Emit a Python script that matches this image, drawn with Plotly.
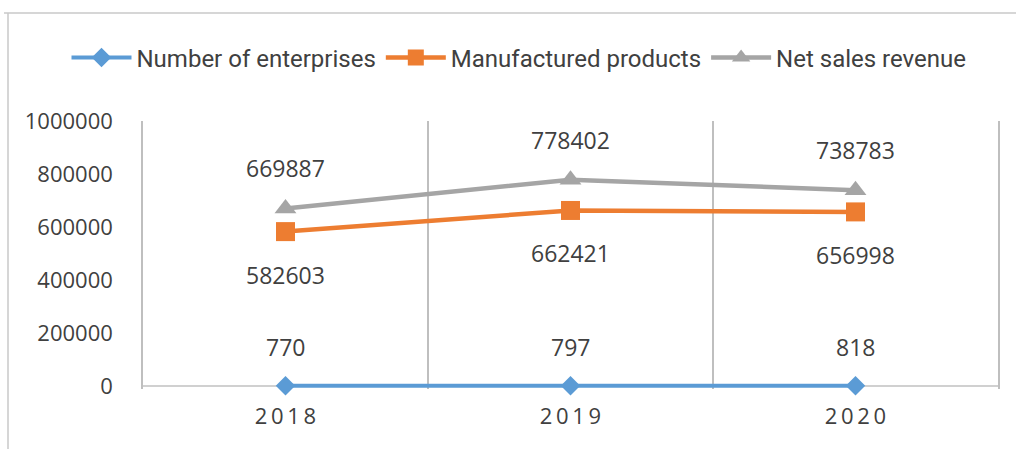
import plotly.graph_objects as go

# Data
years = ["2018", "2019", "2020"]
year_labels = ["2\u20090\u20091\u20098", "2\u20090\u20091\u20099", "2\u20090\u20092\u20090"]
enterprises = [770, 797, 818]
manufactured = [582603, 662421, 656998]
net_sales = [669887, 778402, 738783]

y_ticks = [0, 200000, 400000, 600000, 800000, 1000000]

BLUE = "#5B9BD5"
ORANGE = "#ED7D31"
GRAY = "#A5A5A5"
TEXT = "#404040"
GRID = "#BFBFBF"

W, H = 1016, 449
PLOT_L, PLOT_R = 143, 998
T = 121
Y_MAX = 1000000
PX_PER_UNIT = 265 / Y_MAX      # 0..1e6 spans 265 px
BELOW = 3                      # px of room under the baseline so the bottom line is not clipped
B = 63 - BELOW
ph = H - T - B
y_min = -BELOW / PX_PER_UNIT

xs = list(range(len(years)))

fig = go.Figure()

series = [
    ("Number of enterprises", enterprises, BLUE, "diamond", 15, 4),
    ("Manufactured products", manufactured, ORANGE, "square", 19, 4.5),
    ("Net sales revenue", net_sales, GRAY, "triangle-up", 19, 4.5),
]
for name, vals, color, symbol, msize, lw in series:
    fig.add_trace(go.Scatter(
        x=xs, y=vals, name=name, mode="lines+markers",
        line=dict(color=color, width=lw),
        marker=dict(symbol=symbol, size=msize, color=color, line=dict(width=0)),
        cliponaxis=False,
    ))

# Value labels: net sales and enterprises above, manufactured below
label_font = dict(family="Open Sans", size=23, color=TEXT)
annotations = []
for vals, shift in [(net_sales, 40), (enterprises, 39), (manufactured, -43)]:
    for x, v in zip(xs, vals):
        annotations.append(dict(
            x=x, y=v, xref="x", yref="y", text=str(v), showarrow=False,
            yshift=shift, font=label_font, xanchor="center", yanchor="middle",
        ))

# Outer chart frame (top and left edges)
fx = lambda px: px / W
fy = lambda py: (H - B - py) / ph
shapes = [
    dict(type="line", xref="paper", yref="paper", x0=fx(4), x1=fx(W + 10),
         y0=fy(13), y1=fy(13), line=dict(color="#C8C8C8", width=1.5)),
    dict(type="line", xref="paper", yref="paper", x0=fx(8), x1=fx(8),
         y0=fy(13), y1=fy(H + 10), line=dict(color="#C8C8C8", width=1.5)),
]

fig.update_layout(
    width=W, height=H,
    margin=dict(l=0, r=0, t=T, b=B, pad=0),
    paper_bgcolor="white", plot_bgcolor="white",
    font=dict(family="Open Sans", size=22, color=TEXT),
    showlegend=True,
    legend=dict(
        orientation="h", x=fx(519), xanchor="center", y=fy(58), yanchor="middle",
        font=dict(family="Roboto", size=24, color=TEXT),
        itemwidth=60, bgcolor="rgba(0,0,0,0)",
    ),
    annotations=annotations,
    shapes=shapes,
    xaxis=dict(
        domain=[PLOT_L / W, PLOT_R / W],
        range=[-0.5, len(years) - 0.5],
        tickmode="array", tickvals=xs, ticktext=year_labels,
        showgrid=False, zeroline=False, showline=False,
        ticks="", ticklabelstandoff=12,
        minor=dict(tick0=-0.5, dtick=1, showgrid=True, gridcolor=GRID, gridwidth=1.5),
        tickfont=dict(family="Open Sans", size=22, color=TEXT),
    ),
    yaxis=dict(
        range=[y_min, Y_MAX],
        tickmode="array", tickvals=y_ticks, ticktext=[str(v) for v in y_ticks],
        showgrid=False,
        zeroline=True, zerolinecolor="#D0D0D0", zerolinewidth=1.5,
        showline=True, mirror=True, linecolor=GRID, linewidth=1.5,
        ticks="", ticklabelstandoff=24,
        tickfont=dict(family="Open Sans", size=22, color=TEXT),
    ),
)

fig.write_html("out.html")
